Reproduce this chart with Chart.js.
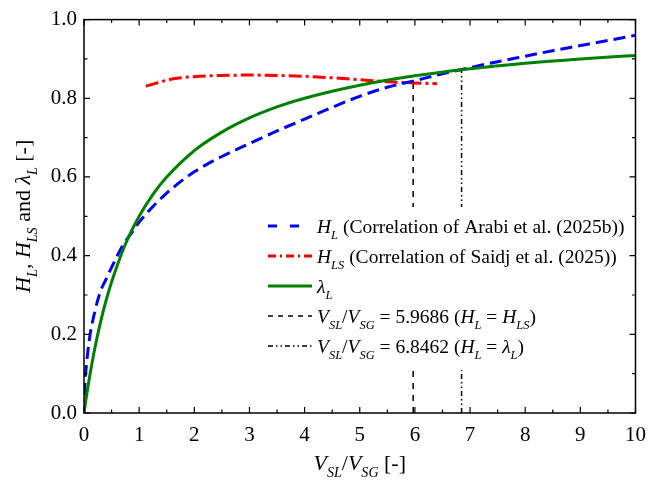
<!DOCTYPE html>
<html>
<head>
<meta charset="utf-8">
<script src="https://cdn.jsdelivr.net/npm/chart.js@4.4.0/dist/chart.umd.min.js"></script>
<style>
  html, body { margin: 0; padding: 0; background: #fff; }
  #wrap { width: 656px; height: 483px; }
</style>
</head>
<body>
<div id="wrap"><canvas id="myChart" width="656" height="483"></canvas></div>
<script>
// values
const xHL = [0, 0.02, 0.05, 0.1, 0.2, 0.3, 0.4, 0.5, 0.7, 0.85, 1, 1.25, 1.5, 1.75, 2, 2.25, 2.5, 3, 3.5, 4, 4.5, 5, 5.5, 6, 6.5, 7, 7.5, 8, 8.5, 9, 9.5, 10];
const hL = [0, 0.08, 0.13, 0.19, 0.26, 0.31, 0.34, 0.37, 0.425, 0.455, 0.485, 0.525, 0.559, 0.588, 0.613, 0.634, 0.652, 0.685, 0.717, 0.747, 0.777, 0.805, 0.828, 0.845, 0.862, 0.878, 0.893, 0.907, 0.921, 0.934, 0.947, 0.96];

const xHLS = [1.12, 1.6, 2, 2.5, 3, 3.5, 4, 4.5, 5, 5.5, 6, 6.4];
const hLS = [0.831, 0.849, 0.855, 0.858, 0.859, 0.858, 0.856, 0.852, 0.847, 0.842, 0.839, 0.837];

const xLam = [0, 0.05, 0.1, 0.2, 0.3, 0.4, 0.5, 0.75, 1, 1.25, 1.5, 2, 2.5, 3, 3.5, 4, 5, 6, 7, 8, 9, 10];
const lamL = [0, 0.048, 0.091, 0.167, 0.231, 0.286, 0.333, 0.429, 0.5, 0.556, 0.6, 0.667, 0.714, 0.75, 0.778, 0.8, 0.833, 0.857, 0.875, 0.889, 0.9, 0.909];

const xCross = [5.9686, 6.8462];
const yCross = [0.842, 0.873];

const xTicks = [0, 1, 2, 3, 4, 5, 6, 7, 8, 9, 10];
const yTicks = [0, 0.2, 0.4, 0.6, 0.8, 1.0];

const FONT = "'Liberation Serif', 'Times New Roman', serif";
Chart.defaults.font.family = FONT;

// legend rows: segments of rich text, [text, italic, subscript]
const legendRows = [
  [['H', 1, 0], ['L', 1, 1], [' (Correlation of Arabi et al. (2025b))', 0, 0]],
  [['H', 1, 0], ['LS', 1, 1], [' (Correlation of Saidj et al. (2025))', 0, 0]],
  [['\u03bb', 1, 0], ['L', 1, 1]],
  [['V', 1, 0], ['SL', 1, 1], ['/', 0, 0], ['V', 1, 0], ['SG', 1, 1], [' = 5.9686 (', 0, 0], ['H', 1, 0], ['L', 1, 1], [' = ', 0, 0], ['H', 1, 0], ['LS', 1, 1], [')', 0, 0]],
  [['V', 1, 0], ['SL', 1, 1], ['/', 0, 0], ['V', 1, 0], ['SG', 1, 1], [' = 6.8462 (', 0, 0], ['H', 1, 0], ['L', 1, 1], [' = ', 0, 0], ['\u03bb', 1, 0], ['L', 1, 1], [')', 0, 0]]
];
const legendStyles = [
  { color: '#0000ff', width: 3, dash: [9, 13] },
  { color: '#ff0000', width: 3, dash: [8, 4, 2, 4] },
  { color: '#008000', width: 3, dash: [] },
  { color: '#000000', width: 1.5, dash: [5, 5] },
  { color: '#000000', width: 1.5, dash: [5, 3, 1.5, 3, 1.5, 3] }
];
const xTitle = [['V', 1, 0], ['SL', 1, 1], ['/', 0, 0], ['V', 1, 0], ['SG', 1, 1], [' [-]', 0, 0]];
const yTitle = [['H', 1, 0], ['L', 1, 1], [', ', 0, 0], ['H', 1, 0], ['LS', 1, 1], [' and ', 0, 0], ['\u03bb', 1, 0], ['L', 1, 1], [' [-]', 0, 0]];

function pts(xs, ys) {
  return xs.map((x, i) => ({ x: x, y: ys[i] }));
}

function richWidth(ctx, segs, size) {
  let w = 0;
  segs.forEach(s => {
    const sz = s[2] ? size * 0.64 : size;
    ctx.font = (s[1] ? 'italic ' : '') + sz + 'px ' + FONT;
    w += ctx.measureText(s[0]).width;
  });
  return w;
}

function drawRich(ctx, segs, x, y, size) {
  ctx.textBaseline = 'alphabetic';
  ctx.textAlign = 'left';
  ctx.fillStyle = '#000';
  segs.forEach(s => {
    const sz = s[2] ? size * 0.64 : size;
    ctx.font = (s[1] ? 'italic ' : '') + sz + 'px ' + FONT;
    ctx.fillText(s[0], x, s[2] ? y + size * 0.3 : y);
    x += ctx.measureText(s[0]).width;
  });
}

const framePlugin = {
  id: 'frame',
  afterDatasetsDraw(chart) {
    const ctx = chart.ctx;
    const xs = chart.scales.x, ys = chart.scales.y;
    const a = chart.chartArea;
    ctx.save();

    // legend box (white, covers the vertical lines)
    ctx.fillStyle = '#fff';
    ctx.fillRect(262, 207, 370, 163);
    legendRows.forEach((row, i) => {
      const y = 226 + i * 30;
      const st = legendStyles[i];
      ctx.strokeStyle = st.color;
      ctx.lineWidth = st.width;
      ctx.setLineDash(st.dash);
      ctx.beginPath();
      ctx.moveTo(268, y);
      ctx.lineTo(312, y);
      ctx.stroke();
      ctx.setLineDash([]);
      drawRich(ctx, row, 317, y + 7, 19.5);
    });

    // frame
    ctx.strokeStyle = '#000';
    ctx.lineWidth = 1.5;
    ctx.strokeRect(a.left, a.top, a.right - a.left, a.bottom - a.top);

    // inward ticks on all sides
    ctx.lineWidth = 1.2;
    ctx.beginPath();
    for (let v = 0; v <= 10.001; v += 0.5) {
      const p = xs.getPixelForValue(v);
      const len = Math.abs(v - Math.round(v)) < 0.01 ? 6 : 3.5;
      ctx.moveTo(p, a.bottom); ctx.lineTo(p, a.bottom - len);
      ctx.moveTo(p, a.top); ctx.lineTo(p, a.top + len);
    }
    for (let k = 0; k <= 10; k++) {
      const p = ys.getPixelForValue(k / 10);
      const len = k % 2 === 0 ? 6 : 3.5;
      ctx.moveTo(a.left, p); ctx.lineTo(a.left + len, p);
      ctx.moveTo(a.right, p); ctx.lineTo(a.right - len, p);
    }
    ctx.stroke();

    // axis titles
    const tw = richWidth(ctx, xTitle, 22);
    drawRich(ctx, xTitle, (a.left + a.right) / 2 - tw / 2, 470, 22);
    const th = richWidth(ctx, yTitle, 22);
    ctx.translate(30, (a.top + a.bottom) / 2);
    ctx.rotate(-Math.PI / 2);
    drawRich(ctx, yTitle, -th / 2, 0, 22);
    ctx.restore();
  }
};

const ctx = document.getElementById('myChart').getContext('2d');

new Chart(ctx, {
  type: 'line',
  data: {
    datasets: [
      {
        label: 'V_SL/V_SG = 5.9686',
        data: pts([xCross[0], xCross[0]], [0, yCross[0]]),
        borderColor: '#000', borderWidth: 1.5, borderDash: [6, 6],
        pointRadius: 0, tension: 0, order: 5
      },
      {
        label: 'V_SL/V_SG = 6.8462',
        data: pts([xCross[1], xCross[1]], [0, yCross[1]]),
        borderColor: '#000', borderWidth: 1.5, borderDash: [5, 3, 1.5, 3, 1.5, 3],
        pointRadius: 0, tension: 0, order: 4
      },
      {
        label: 'H_LS',
        data: pts(xHLS, hLS),
        borderColor: '#ff0000', borderWidth: 3, borderDash: [13, 4, 3, 4],
        pointRadius: 0, cubicInterpolationMode: 'monotone', order: 3
      },
      {
        label: 'H_L',
        data: pts(xHL, hL),
        borderColor: '#0000ff', borderWidth: 3, borderDash: [12, 6],
        pointRadius: 0, cubicInterpolationMode: 'monotone', order: 2
      },
      {
        label: 'lambda_L',
        data: pts(xLam, lamL),
        borderColor: '#008000', borderWidth: 3,
        pointRadius: 0, cubicInterpolationMode: 'monotone', order: 1
      }
    ]
  },
  options: {
    responsive: false,
    animation: false,
    layout: { padding: { top: 17, right: 11, left: 0, bottom: 0 } },
    plugins: { legend: { display: false }, tooltip: { enabled: false } },
    scales: {
      x: {
        type: 'linear', min: 0, max: 10,
        grid: { display: false, drawTicks: false },
        border: { display: false },
        afterBuildTicks: s => { s.ticks = xTicks.map(v => ({ value: v })); },
        afterFit: s => { s.height = 70; },
        ticks: { color: '#000', padding: 10, font: { family: FONT, size: 21 }, maxRotation: 0 }
      },
      y: {
        type: 'linear', min: 0, max: 1,
        grid: { display: false, drawTicks: false },
        border: { display: false },
        afterBuildTicks: s => { s.ticks = yTicks.map(v => ({ value: v })); },
        afterFit: s => { s.width = 84; },
        ticks: { color: '#000', padding: 7, font: { family: FONT, size: 21 }, callback: v => v.toFixed(1) }
      }
    }
  },
  plugins: [framePlugin]
});
</script>
</body>
</html>
